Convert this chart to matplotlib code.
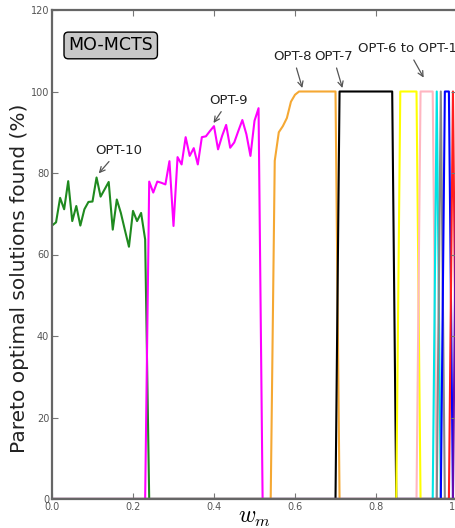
import matplotlib.pyplot as plt

plt.rcParams['mathtext.fontset'] = 'cm'

# w_m grid, step 0.01
w_m = [round(i * 0.01, 2) for i in range(101)]

# non-zero part of each curve: (index of first point, values)
opt10_start = 0
opt10 = [67.1, 67.9, 73.9, 71.1, 78.0, 68.2, 71.9, 67.1, 71.1, 72.9,
	73.0, 78.9, 74.2, 76.0, 77.8, 66.1, 73.5, 70.2, 66.0, 61.9,
	70.7, 68.2, 70.2, 63.7]

opt9_start = 24
opt9 = [77.9, 75.2, 77.9, 77.6, 77.2, 82.9, 67.0, 83.9, 82.1, 88.8,
	84.2, 86.1, 82.1, 88.8, 89.0, 90.3, 91.5, 85.8, 89.1, 91.8,
	86.2, 87.5, 90.3, 93.0, 89.5, 84.2, 92.8, 95.9]

opt8_start = 55
opt8 = [83.0, 90.0, 91.5, 93.5, 97.5, 99.2,
	100, 100, 100, 100, 100, 100, 100, 100, 100, 100]

opt7_start = 71
opt7 = [100] * 14

opt6_start = 86
opt6 = [100] * 5
opt5_start = 91
opt5 = [100] * 4
opt4_start = 95
opt4 = [100]
opt3_start = 96
opt3 = [100]
opt2_start = 97
opt2 = [100, 100]
opt1_start = 99
opt1 = [100]
optx_start = 100
optx = [100]

starts = [opt10_start, opt9_start, opt8_start, opt7_start, opt6_start,
	opt5_start, opt4_start, opt3_start, opt2_start, opt1_start, optx_start]
curves = [opt10, opt9, opt8, opt7, opt6, opt5, opt4, opt3, opt2, opt1, optx]
colors = ['#1f8a1f', '#ff00ff', '#f5a833', 'black', '#ffff00', '#ffb6c1',
	'#00e5e5', '#888888', '#0000ff', '#ff2020', '#6a0dad']


def full_series(start, vals):
	y = [0.0] * len(w_m)
	for i, v in enumerate(vals):
		y[start + i] = v
	return y


fig = plt.figure(figsize=(4.56, 5.28), dpi=100)
ax = fig.add_axes([52 / 456, 29 / 528, 405 / 456, 489 / 528])

for s, c, col in zip(starts, curves, colors):
	ax.plot(w_m, full_series(s, c), color=col, linewidth=1.5, zorder=1)

ax.set_xlim(0, 1)
ax.set_ylim(0, 120)
ax.set_xticks([0.0, 0.2, 0.4, 0.6, 0.8, 1.0])
ax.set_xticklabels(['0.0', '0.2', '0.4', '0.6', '0.8', '1.0'])
ax.set_yticks([0, 20, 40, 60, 80, 100, 120])
ax.tick_params(direction='in', top=True, right=True, length=4,
	labelsize=7, labelcolor='#555555', color='#777777', pad=2)
for sp in ax.spines.values():
	sp.set_color('#666666')
	sp.set_linewidth(1.6)
	sp.set_zorder(3)

fig.text(20 / 456, 1 - 278 / 528, 'Pareto optimal solutions found (%)',
	rotation=90, ha='center', va='center', fontsize=14.5, color='#222222')
ax.set_xlabel('$w_m$', fontsize=17, labelpad=-5)

ax.text(0.145, 111.3, 'MO-MCTS', fontsize=12.5, ha='center', va='center',
	bbox=dict(boxstyle='round,pad=0.25', facecolor='#c8c8c8', edgecolor='black'))

arrow = dict(arrowstyle='->', color='#555555', lw=0.9)
ax.annotate('OPT-10', xy=(0.111, 79.4), xytext=(0.165, 85.6),
	ha='center', va='center', fontsize=9.5, color='#222222', arrowprops=arrow)
ax.annotate('OPT-9', xy=(0.395, 91.7), xytext=(0.437, 97.9),
	ha='center', va='center', fontsize=9.5, color='#222222', arrowprops=arrow)
ax.annotate('OPT-8', xy=(0.62, 100.2), xytext=(0.595, 108.7),
	ha='center', va='center', fontsize=9.5, color='#222222', arrowprops=arrow)
ax.annotate('OPT-7', xy=(0.719, 100.2), xytext=(0.694, 108.7),
	ha='center', va='center', fontsize=9.5, color='#222222', arrowprops=arrow)
ax.annotate('OPT-6 to OPT-1', xy=(0.921, 102.8), xytext=(0.755, 110.6),
	ha='left', va='center', fontsize=9.5, color='#222222', arrowprops=arrow,
	annotation_clip=False)

fig.savefig('out.png', dpi=100)
